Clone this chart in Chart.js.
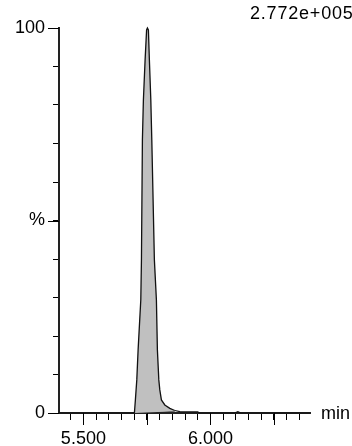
<!DOCTYPE html>
<html>
<head>
<meta charset="utf-8">
<script src="https://cdn.jsdelivr.net/npm/chart.js@4/dist/chart.umd.min.js"></script>
<style>
  html, body { margin: 0; padding: 0; background: #fff; }
  #wrap { width: 352px; height: 446px; }
</style>
</head>
<body>
<div id="wrap"><canvas id="c" width="352" height="446"></canvas></div>
<script>
// Retention time (min) and relative intensity (%)
const traceTimes = [5.404, 5.7008, 5.7047, 5.7102, 5.7154, 5.726, 5.7285, 5.7323, 5.7362, 5.7429, 5.7488, 5.752,
  5.7559, 5.7598, 5.7654, 5.7693, 5.7795, 5.7874, 5.7913, 5.7969, 5.8008, 5.8071, 5.8205, 5.8402, 5.8598,
  5.88, 5.95, 5.957, 6.095, 6.108, 6.12, 6.392];
const traceIntensity = [0, 0, 3.4, 8.6, 16.4, 29.4, 39.7, 70.9, 81.3, 91.7, 99.5, 100,
  99.5, 91.7, 81.3, 70.9, 39.7, 29.4, 16.4, 8.6, 6.0, 3.4, 2.1, 1.2, 0.65,
  0.35, 0.3, 0, 0, 0.35, 0, 0];
// Integration baseline of the peak
const baselineTimes = [5.7008, 5.8598];
const baselineIntensity = [0, 0.45];
// Axis ticks
const xMin = 5.404, xMax = 6.392, xStep = 0.05;
const xMajorTicks = [5.5, 5.75, 6.0, 6.25];
const xLabelTicks = [5.5, 6.0];
const yTickLabels = { 0: '0', 50: '%', 100: '100' };
const yLongTicks = [0, 50, 100];
const scaleFactorLabel = '2.772e+005';
const xUnitLabel = 'min';

const pts = (xs, ys) => xs.map((x, i) => ({ x: x, y: ys[i] }));
const allPts = pts(traceTimes, traceIntensity);
const peakPts = allPts.filter(p => p.x >= baselineTimes[0] && p.x <= baselineTimes[1]);
const prePts = allPts.filter(p => p.x <= baselineTimes[0]);
const postPts = allPts.filter(p => p.x >= baselineTimes[1]);

const FONT = "'Liberation Sans', Arial, Helvetica, sans-serif";

const extras = {
  id: 'extras',
  afterDatasetsDraw(chart) {
    const ctx = chart.ctx;
    const xs = chart.scales.x, ys = chart.scales.y;
    ctx.save();
    ctx.strokeStyle = '#000';
    ctx.lineWidth = 1;
    xMajorTicks.forEach(v => {
      const px = Math.round(xs.getPixelForValue(v)) + 0.5;
      ctx.beginPath();
      ctx.moveTo(px, ys.bottom);
      ctx.lineTo(px, ys.bottom + 12);
      ctx.stroke();
    });
    yLongTicks.forEach(v => {
      const py = Math.round(ys.getPixelForValue(v)) + 0.5;
      ctx.beginPath();
      ctx.moveTo(xs.left - 11, py);
      ctx.lineTo(xs.left, py);
      ctx.stroke();
    });
    ctx.fillStyle = '#000';
    ctx.font = '18px ' + FONT;
    ctx.textAlign = 'left';
    ctx.textBaseline = 'middle';
    ctx.fillText(xUnitLabel, 321, ys.bottom + 1);
    ctx.textBaseline = 'top';
    if ('letterSpacing' in ctx) ctx.letterSpacing = '0.8px';
    ctx.fillText(scaleFactorLabel, 250, 5);
    ctx.restore();
  }
};

new Chart(document.getElementById('c'), {
  type: 'scatter',
  data: {
    datasets: [
      { data: peakPts, showLine: true, borderColor: '#111', borderWidth: 1.3, pointRadius: 0,
        backgroundColor: '#c0c0c0', fill: '+1', tension: 0, clip: false },
      { data: pts(baselineTimes, baselineIntensity), showLine: true, borderColor: '#222', borderWidth: 1,
        pointRadius: 0, fill: false, clip: false },
      { data: prePts, showLine: true, borderColor: '#111', borderWidth: 1.2, pointRadius: 0, fill: false, clip: false },
      { data: postPts, showLine: true, borderColor: '#111', borderWidth: 1.2, pointRadius: 0, fill: false, clip: false }
    ]
  },
  options: {
    responsive: false,
    animation: false,
    devicePixelRatio: 1,
    layout: { padding: { top: 28, right: 42, left: 0, bottom: 0 } },
    plugins: { legend: { display: false }, tooltip: { enabled: false } },
    scales: {
      x: {
        type: 'linear', min: xMin, max: xMax,
        afterFit: s => { s.height = 33; },
        grid: { drawOnChartArea: false, tickLength: 7, color: '#000', tickWidth: 1 },
        border: { color: '#222', width: 2 },
        ticks: {
          stepSize: xStep, includeBounds: false, autoSkip: false, maxRotation: 0, padding: 8,
          color: '#000', font: { family: FONT, size: 18 },
          callback: v => xLabelTicks.some(t => Math.abs(t - v) < 1e-6) ? Number(v).toFixed(3) : ''
        }
      },
      y: {
        type: 'linear', min: 0, max: 100,
        afterFit: s => { s.width = 59; },
        grid: { drawOnChartArea: false, tickLength: 6, color: '#000', tickWidth: 1 },
        border: { color: '#222', width: 2 },
        ticks: {
          stepSize: 10, autoSkip: false, padding: 8,
          color: '#000', font: { family: FONT, size: 18 },
          callback: v => (yTickLabels[Math.round(v)] !== undefined ? yTickLabels[Math.round(v)] : '')
        }
      }
    }
  },
  plugins: [extras]
});
</script>
</body>
</html>
